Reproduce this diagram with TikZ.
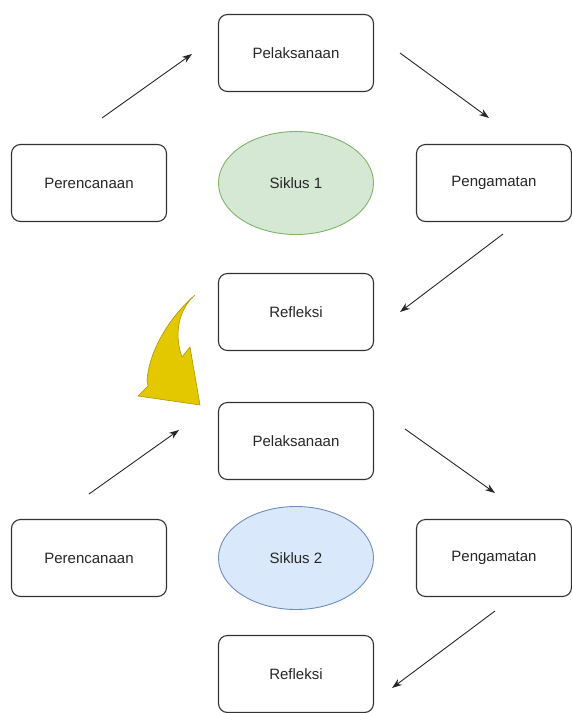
\documentclass[tikz,border=0pt]{standalone}
\usepackage{fontspec}
\setmainfont{Liberation Sans}
\usetikzlibrary{arrows.meta, positioning, shapes.geometric}
\definecolor{BoxColor}{RGB}{51,51,51}
\definecolor{GreenFill}{HTML}{D5E8D4}
\definecolor{GreenLine}{HTML}{82B366}
\definecolor{BlueFill}{HTML}{DAE8FC}
\definecolor{BlueLine}{HTML}{6C8EBF}
\definecolor{YellowFill}{HTML}{E3C800}
\definecolor{YellowLine}{HTML}{B09500}
\tikzstyle{stage} = [rectangle, rounded corners=9pt, draw=BoxColor, line width=1.1pt, minimum width=155pt, minimum height=77pt, font=\fontsize{15}{18}\selectfont, text=black!85]
\tikzstyle{cyclus} = [ellipse, minimum width=155pt, minimum height=103pt, line width=0.9pt, font=\fontsize{15}{18}\selectfont, text=black!85]
\tikzstyle{flow} = [line width=0.9pt, black!85, -{Stealth[length=10pt,width=7pt]}]

\begin{document}
\begin{tikzpicture}[x=1pt, y=-1pt]
                \useasboundingbox (0,0) rectangle (572,713);

                % Siklus 1
                \node[stage] (act1) at (296,53) {Pelaksanaan};
                \node[stage] (plan1) at (89,183) {Perencanaan};
                \node[cyclus, fill=GreenFill, draw=GreenLine] (cycle1) at (296,183) {Siklus 1};
                \node[stage] (observe1) at (494,183) {Pengamatan};
                \node[stage] (reflect1) at (296,312) {Refleksi};

                \coordinate (a1s) at (102,118);
                \coordinate (a1e) at (192,54);
                \coordinate (a2s) at (400,53);
                \coordinate (a2e) at (489,118);
                \coordinate (a3s) at (503,234);
                \coordinate (a3e) at (400,312);
                \draw[flow] (a1s) -- (a1e);
                \draw[flow] (a2s) -- (a2e);
                \draw[flow] (a3s) -- (a3e);

                % Yellow curved arrow to the next cycle
                \filldraw[fill=YellowFill, draw=YellowLine, line width=0.6pt, line join=round]
                    (195,295) .. controls (175,312) and (150,345) .. (147,380)
                    -- (148,386) -- (138,396) -- (200,405) -- (190,347) -- (182,357)
                    .. controls (174,335) and (178,310) .. (195,295) -- cycle;

                % Siklus 2
                \node[stage] (act2) at (296,441) {Pelaksanaan};
                \node[stage] (plan2) at (89,558) {Perencanaan};
                \node[cyclus, fill=BlueFill, draw=BlueLine] (cycle2) at (296,558) {Siklus 2};
                \node[stage] (observe2) at (494,558) {Pengamatan};
                \node[stage] (reflect2) at (296,674) {Refleksi};

                \coordinate (b1s) at (89,494);
                \coordinate (b1e) at (179,430);
                \coordinate (b2s) at (405,429);
                \coordinate (b2e) at (495,493);
                \coordinate (b3s) at (495,611);
                \coordinate (b3e) at (392,688);
                \draw[flow] (b1s) -- (b1e);
                \draw[flow] (b2s) -- (b2e);
                \draw[flow] (b3s) -- (b3e);
            \end{tikzpicture}
\end{document}
